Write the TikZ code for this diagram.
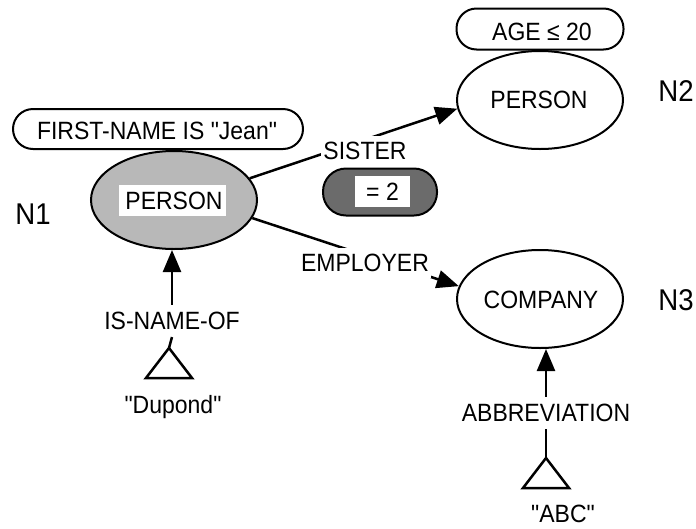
\documentclass[tikz,border=0pt]{standalone}
\usepackage{fontspec}
\newfontfamily\diagfont{Liberation Sans}[FakeStretch=0.92]
\usetikzlibrary{arrows.meta,shapes.geometric,calc}

\tikzset{
  concept/.style={ellipse, draw, line width=2pt, minimum width=166pt, minimum height=98pt, inner sep=0pt},
  pill/.style={rectangle, draw, line width=2pt, inner sep=0pt},
  lbl/.style={inner xsep=2pt, inner ysep=7pt},
  cutlbl/.style={fill=white, inner xsep=2pt, inner ysep=6pt},
  tag/.style={font=\diagfont\fontsize{30}{34}\selectfont},
  arr/.style={line width=2.5pt, -{Triangle[length=22pt,width=18pt]}},
  plain/.style={line width=2.5pt},
  valtri/.style={line width=2.5pt, line join=miter}
}

\begin{document}
\begin{tikzpicture}[x=1pt, y=-1pt, font=\diagfont\fontsize{25}{29}\selectfont]
  \fill[white] (0,0) rectangle (696,528);
  \useasboundingbox (0,0) rectangle (696,528);

  % concept nodes
  \node[concept, fill=black!28] (n1) at (174,200) {};
  \node[fill=white, minimum width=107pt, minimum height=31pt, inner sep=0pt] (n1txt) at (172.5,200.5) {};
  \node (n1name) at (174,201) {PERSON};
  \node[concept] (n2) at (540,100) {};
  \node (n2name) at (539,100) {PERSON};
  \node[concept] (n3) at (540,299) {};
  \node (n3name) at (541,300) {COMPANY};

  % attribute constraints
  \node[pill, rounded corners=20pt, minimum width=290pt, minimum height=40pt] (fn) at (158,129) {};
  \node (fntxt) at (157,131) {FIRST-NAME IS "Jean"};
  \node[pill, rounded corners=20pt, minimum width=167pt, minimum height=41pt] (age) at (540,29) {};
  \node (agetxt) at (542,32) {AGE ≤ 20};

  % node tags
  \node[tag] (tag1) at (33,214) {N1};
  \node[tag] (tag2) at (676,91) {N2};
  \node[tag] (tag3) at (676,300) {N3};

  % relations between concepts
  \draw[arr] (n1.16) -- (n2.186);
  \node[cutlbl] (sister) at (365,151) {SISTER};
  \draw[arr] (n1.-13) -- (n3.171);
  \node[cutlbl] (employer) at (365,263) {EMPLOYER};

  % cardinality of the SISTER relation
  \node[pill, rounded corners=23pt, minimum width=114pt, minimum height=47pt, fill=black!58,
        path picture={
          \foreach \dx/\w in {-44/6, -30/4, 28/5, 40/6}
            \fill[black!44] ([xshift=\dx pt]path picture bounding box.south) rectangle ++(\w pt,-60pt);
        }] (card) at (380,192) {};
  \node[fill=white, minimum width=55pt, minimum height=31pt, inner sep=0pt] (cardbox) at (382.5,191.5) {= 2};

  % value nodes
  \node[lbl] (isname) at (172,321) {IS-NAME-OF};
  \coordinate (t1) at (169,348);
  \draw[arr] (isname.north) -- (isname.north |- n1.south);
  \draw[plain] (isname.south) -- (t1);
  \draw[valtri] (t1) -- ++(-23,30) -- ++(46,0) -- cycle;
  \node[anchor=base] (dupond) at (173,413) {"Dupond"};

  \node[lbl] (abbr) at (546,413) {ABBREVIATION};
  \coordinate (t2) at (546,458);
  \draw[arr] (abbr.north) -- (abbr.north |- n3.south);
  \draw[plain] (abbr.south) -- (t2);
  \draw[valtri] (t2) -- ++(-23,30) -- ++(46,0) -- cycle;
  \node[anchor=base] (abc) at (563,522) {"ABC"};
\end{tikzpicture}
\end{document}
